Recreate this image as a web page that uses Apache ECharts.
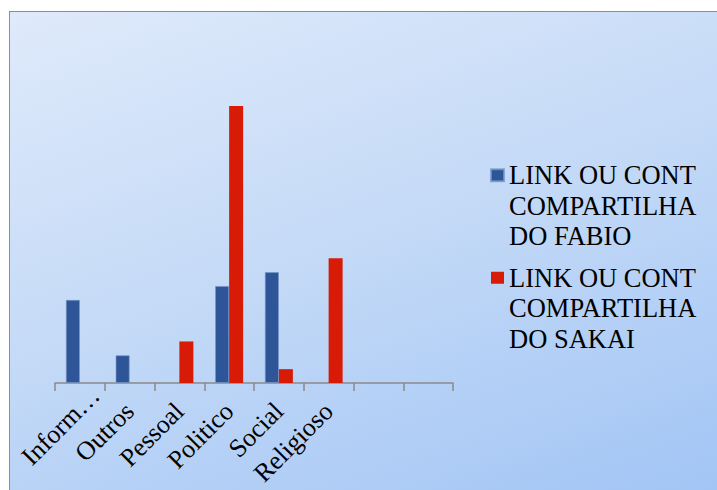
<!DOCTYPE html>
<html>
<head>
<meta charset="utf-8">
<script src="https://cdn.jsdelivr.net/npm/echarts@6/dist/echarts.min.js"></script>
<style>
  html, body { margin: 0; padding: 0; background: #fff; }
  .panel {
    position: absolute; left: 9px; top: 11px; width: 708px; height: 479px;
    border-left: 1.5px solid #8e8e8e; border-top: 1.5px solid #8e8e8e;
    background: linear-gradient(160deg, #dfeafb 0%, #c6dbf7 45%, #a2c5f5 100%);
  }
  #chart { position: absolute; left: 0; top: 0; width: 717px; height: 490px; }
</style>
</head>
<body>
<div class="panel"></div>
<div id="chart"></div>
<script>
// categorias (as duas ultimas ficam vazias, como no original)
var categories = ['Inform…', 'Outros', 'Pessoal', 'Politico', 'Social', 'Religioso', '', ''];
var fabio = [6, 2, '-', 7, 8, '-', '-', '-'];
var sakai = ['-', '-', 3, 20, 1, 9, '-', '-'];
var seriesNames = ['LINK OU CONT COMPARTILHADO FABIO', 'LINK OU CONT COMPARTILHADO SAKAI'];

var chart = echarts.init(document.getElementById('chart'), null, { renderer: 'svg' });
var serif = 'Times New Roman';
var legendText = { fontFamily: serif, fontSize: 26.5, lineHeight: 30.5, color: '#000', fontWeight: 'normal' };

// o rotulo truncado fica um pouco deslocado no original
var xData = categories.map(function (c, i) {
  return i === 0 ? { value: c, textStyle: { padding: [0, -22, 0, 0] } } : c;
});

var option = {
  backgroundColor: 'transparent',
  animation: false,
  textStyle: { fontFamily: serif },
  grid: { left: 55, right: 264, top: 106, bottom: 107, outerBoundsMode: 'none' },
  legend: {
    orient: 'vertical',
    left: 490,
    top: 99,
    padding: 0,
    itemGap: -50,
    itemWidth: 13,
    itemHeight: 12,
    icon: 'rect',
    data: seriesNames,
    formatter: function (name) {
      // duas linhas vazias em cima pra o quadrado ficar na primeira linha
      return '\n\n' + name.replace('CONT ', 'CONT\n').replace('COMPARTILHA', 'COMPARTILHA\n');
    },
    textStyle: legendText
  },
  xAxis: {
    type: 'category',
    data: xData,
    axisLine: { show: true, lineStyle: { color: '#8a8a8a', width: 1.5 } },
    axisTick: { show: true, length: 8, lineStyle: { color: '#8a8a8a', width: 1.5 } },
    axisLabel: {
      interval: 0,
      rotate: 45,
      margin: 24,
      fontFamily: serif,
      fontSize: 26,
      color: '#000'
    }
  },
  yAxis: {
    type: 'value',
    min: 0,
    max: 20,
    show: false,
    splitLine: { show: false }
  },
  series: [
    {
      name: seriesNames[0],
      type: 'bar',
      barWidth: 14,
      barGap: '0%',
      itemStyle: { color: '#2e5597', borderColor: 'rgba(120,150,200,0.8)', borderWidth: 0.8 },
      data: fabio
    },
    {
      name: seriesNames[1],
      type: 'bar',
      barWidth: 14,
      barGap: '0%',
      itemStyle: { color: '#d81b07' },
      data: sakai
    }
  ]
};

chart.setOption(option);
</script>
</body>
</html>
